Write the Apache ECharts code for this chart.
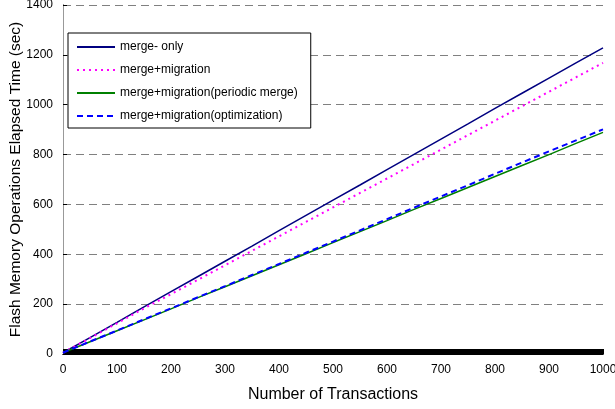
<!DOCTYPE html>
<html><head><meta charset="utf-8">
<script src="https://cdn.jsdelivr.net/npm/echarts@6/dist/echarts.min.js"></script>
<style>html,body{margin:0;padding:0;background:#fff}#c{width:615px;height:409px}</style>
</head><body><div id="c"></div>
<script>
const transactions = [0,50,100,150,200,250,300,350,400,450,500,550,600,650,700,750,800,850,900,950,1000];
const mergeOnly = [5,66,127,189,250,311,372,433,495,556,617,678,740,801,862,923,985,1046,1107,1168,1228];
const mergeMigration = [5,64,123,183,240,298,356,414,472,530,588,646,704,762,820,878,936,994,1052,1110,1168];
const periodicMerge = [5,49,93,137,181,226,270,314,358,402,447,491,535,580,624,668,712,756,800,845,889];
const optimization = [5,50,94,139,183,228,272,317,361,406,451,496,541,587,632,677,723,768,813,857,901];
const seriesNames = ['merge- only','merge+migration','merge+migration(periodic merge)','merge+migration(optimization)'];
const yTicks = [0,200,400,600,800,1000,1200,1400];
const xTicks = [0,100,200,300,400,500,600,700,800,900,1000];

const font = 'Liberation Sans, Arial, sans-serif';
const pair = arr => transactions.map((x,i)=>[x,arr[i]]);
const chart = echarts.init(document.getElementById('c'));
chart.setOption({
  animation:false,
  textStyle:{fontFamily:font},
  grid:{left:63,right:12,top:5,bottom:55,containLabel:false,outerBoundsMode:'none'},
  legend:{
    orient:'vertical', left:68, top:33,
    backgroundColor:'#fff', borderColor:'#000', borderWidth:1,
    padding:[8,13,6,8], itemGap:11, itemWidth:38, itemHeight:14,
    itemStyle:{opacity:0},
    textStyle:{fontSize:12, color:'#000', fontFamily:font},
    data:seriesNames
  },
  xAxis:[{
    type:'value', min:xTicks[0], max:xTicks[xTicks.length-1], interval:100,
    name:'Number of Transactions', nameLocation:'middle', nameGap:33,
    nameTextStyle:{fontSize:16,color:'#000'},
    axisLine:{lineStyle:{color:'#000',width:1}},
    axisTick:{show:true, inside:true, length:5, lineStyle:{color:'#000'}},
    minorTick:{show:true, splitNumber:50, length:5, lineStyle:{color:'#000',width:2}},
    axisLabel:{fontSize:12,color:'#000',margin:10,formatter:v=>String(v)},
    splitLine:{show:false}
  },{
    type:'value', position:'top', min:0, max:1000,
    axisLine:{show:true,lineStyle:{color:'#000'}}, axisTick:{show:false}, axisLabel:{show:false}, splitLine:{show:false}
  }],
  yAxis:[{
    type:'value', min:yTicks[0], max:yTicks[yTicks.length-1], interval:200,
    name:'Flash Memory Operations Elapsed Time (sec)', nameLocation:'middle', nameGap:39, nameMoveOverlap:false,
    nameTextStyle:{fontSize:15.5,color:'#000'},
    axisLine:{show:true,lineStyle:{color:'#000'}},
    axisTick:{show:true, inside:true, length:4, lineStyle:{color:'#000'}},
    axisLabel:{fontSize:12,color:'#000',margin:10,formatter:v=>String(v)},
    splitLine:{show:true,lineStyle:{color:'#808080',type:[8,5],width:1}}
  },{
    type:'value', position:'right', min:0, max:1400,
    axisLine:{show:true,lineStyle:{color:'#999'}}, axisTick:{show:false}, axisLabel:{show:false}, splitLine:{show:false}
  }],
  series:[
    {name:seriesNames[0], type:'line', data:pair(mergeOnly), symbol:'none', lineStyle:{color:'#000080',width:1.5}, itemStyle:{color:'#000080'}},
    {name:seriesNames[1], type:'line', data:pair(mergeMigration), symbol:'none', lineStyle:{color:'#ff00ff',width:2,type:[2,4]}, itemStyle:{color:'#ff00ff'}},
    {name:seriesNames[2], type:'line', data:pair(periodicMerge), symbol:'none', lineStyle:{color:'#008000',width:1.5}, itemStyle:{color:'#008000'}},
    {name:seriesNames[3], type:'line', data:pair(optimization), symbol:'none', lineStyle:{color:'#0000ff',width:2,type:[6,4]}, itemStyle:{color:'#0000ff'}}
  ]
});
</script></body></html>
